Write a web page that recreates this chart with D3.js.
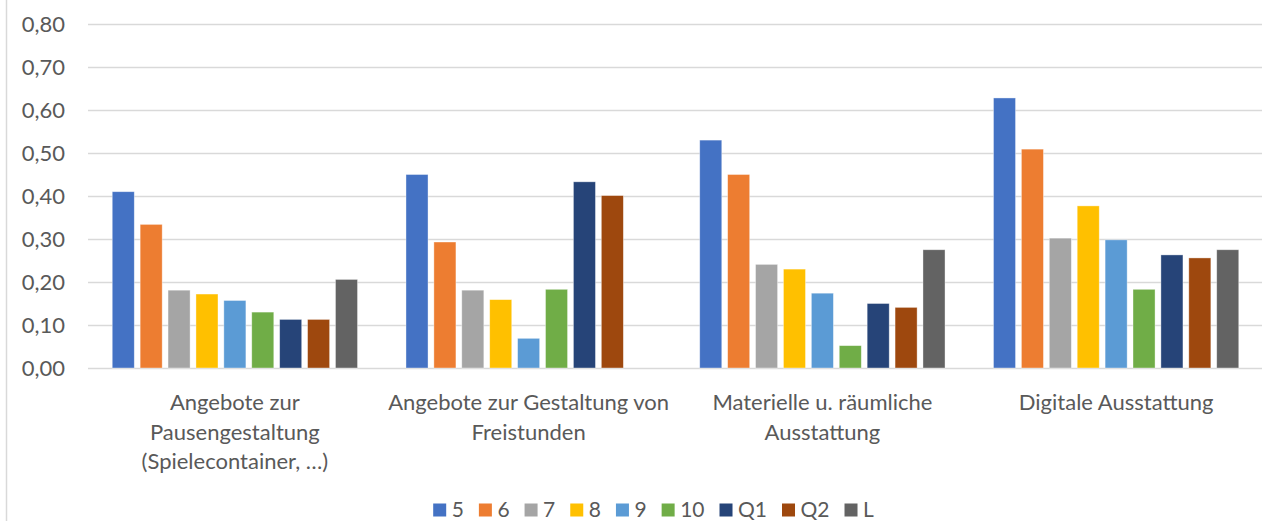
<!DOCTYPE html>
<html>
<head>
<meta charset="utf-8">
<script src="https://cdn.jsdelivr.net/npm/d3@7"></script>
<style>
  body { margin: 0; background: #ffffff; }
  svg { display: block; }
</style>
</head>
<body>
<script>
const width = 1262
const height = 521
const text_color = "#595959"
const grid_color = "#d9d9d9"
const font = "Lato, 'Open Sans', sans-serif"

// categories (line breaks as in the chart)
const categories = [
  "Angebote zur\nPausengestaltung\n(Spielecontainer, …)",
  "Angebote zur Gestaltung von\nFreistunden",
  "Materielle u. räumliche\nAusstattung",
  "Digitale Ausstattung"
]
const series = ["5", "6", "7", "8", "9", "10", "Q1", "Q2", "L"]
const colors = ["#4472c4", "#ed7d31", "#a5a5a5", "#ffc000", "#5b9bd5", "#70ad47", "#264478", "#9e480e", "#636363"]

// one array per series, one value per category
const s5  = [0.41, 0.45, 0.53, 0.628]
const s6  = [0.334, 0.293, 0.45, 0.509]
const s7  = [0.181, 0.181, 0.241, 0.302]
const s8  = [0.172, 0.159, 0.23, 0.377]
const s9  = [0.157, 0.069, 0.174, 0.298]
const s10 = [0.13, 0.183, 0.052, 0.183]
const sQ1 = [0.113, 0.433, 0.15, 0.263]
const sQ2 = [0.113, 0.401, 0.141, 0.256]
const sL  = [0.206, null, 0.275, 0.275]
const values = [s5, s6, s7, s8, s9, s10, sQ1, sQ2, sL]

const y_ticks = [0, 0.1, 0.2, 0.3, 0.4, 0.5, 0.6, 0.7, 0.8]

var svg = d3.select("body").append("svg")
            .attr("width", width)
            .attr("height", height);

// chart border (only the left edge is inside the window)
svg.append("line")
   .attr("x1", 6.5).attr("x2", 6.5)
   .attr("y1", 0).attr("y2", height)
   .style("stroke", grid_color)
   .style("stroke-width", 1.5);

const x0 = d3.scaleBand()
             .domain(d3.range(categories.length))
             .range([88, 1263])
             .paddingInner(0.165)
             .paddingOuter(0.0825);

const x1 = d3.scaleBand()
             .domain(d3.range(series.length))
             .range([0, x0.bandwidth()])
             .paddingInner(0.21)
             .paddingOuter(0);

const y = d3.scaleLinear()
            .domain([0, 0.8])
            .range([368, 24]);

// gridlines + y labels
const yAxis = d3.axisLeft(y)
                .tickValues(y_ticks)
                .tickSize(-(1263 - 88))
                .tickPadding(23)
                .tickFormat(d => d3.format(".2f")(d).replace(".", ","));

const gy = svg.append("g")
              .attr("transform", "translate(88,0)")
              .call(yAxis);
gy.select(".domain").remove();
gy.selectAll(".tick line")
  .style("stroke", grid_color)
  .style("stroke-width", 1.5);
gy.selectAll(".tick text")
  .style("font-family", font)
  .style("font-size", "22px")
  .style("fill", text_color);

// bars
const groups = svg.append("g")
                  .selectAll("g")
                  .data(categories.map((c, i) => i))
                  .join("g")
                  .attr("transform", i => "translate(" + x0(i) + ",0)");

groups.selectAll("rect")
      .data(i => values.map((s, k) => ({ k: k, v: s[i] })).filter(d => d.v != null))
      .join("rect")
      .attr("x", d => x1(d.k))
      .attr("y", d => y(d.v))
      .attr("width", x1.bandwidth())
      .attr("height", d => y(0) - y(d.v))
      .style("fill", d => colors[d.k])
      .style("stroke", "#ffffff")
      .style("stroke-opacity", 0.5)
      .style("stroke-width", 0.75);

// category labels
const xlab = svg.append("g")
                .selectAll("text")
                .data(categories)
                .join("text")
                .attr("x", (d, i) => x0(i) + x0.bandwidth() / 2)
                .attr("y", 410)
                .attr("text-anchor", "middle")
                .style("font-family", font)
                .style("font-size", "22px")
                .style("fill", text_color);

xlab.selectAll("tspan")
    .data(d => d.split("\n"))
    .join("tspan")
    .attr("x", function () { return d3.select(this.parentNode).attr("x") })
    .attr("dy", (d, i) => i == 0 ? 0 : 29.7)
    .text(d => d);

// legend (nudged up a little so the glyphs stay inside the window)
const legend = svg.append("g");
let lx = 0;
series.forEach((name, k) => {
  legend.append("rect")
        .attr("x", lx)
        .attr("y", 503.5)
        .attr("width", 13)
        .attr("height", 13)
        .style("fill", colors[k]);
  const t = legend.append("text")
                  .attr("x", lx + 18.5)
                  .attr("y", 516.5)
                  .style("font-family", font)
                  .style("font-size", "21px")
                  .style("fill", text_color)
                  .text(name);
  lx += 18.5 + t.node().getComputedTextLength() + 15;
});
lx -= 15;
legend.attr("transform", "translate(" + (653.5 - lx / 2) + ",0)");
</script>
</body>
</html>
